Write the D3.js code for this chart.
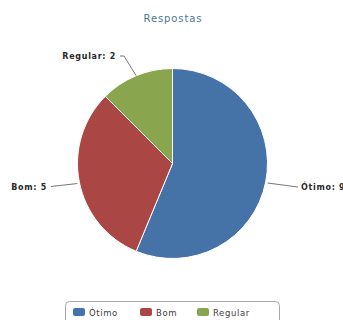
<!DOCTYPE html>
<html><head><meta charset="utf-8">
<script src="https://cdn.jsdelivr.net/npm/d3@7"></script>
<style>body{margin:0;background:#fff}svg{display:block}</style>
</head><body>
<script>
const categories = ["Ótimo", "Bom", "Regular"];
const values = [9, 5, 2];
const colors = ["#4572A7", "#AA4643", "#89A54E"];
const title = "Respostas";

const W = 343, H = 320;
const svg = d3.select("body").append("svg").attr("width", W).attr("height", H);
const font = "'DejaVu Sans', Verdana, sans-serif";

svg.append("text").attr("x", 173).attr("y", 22).attr("text-anchor", "middle")
  .attr("font-family", font).attr("font-size", 10).attr("letter-spacing", 0.9)
  .attr("fill", "#4d7598").text(title);

const cx = 172.5, cy = 163.5, r = 95;
const data = categories.map((c, i) => ({ name: c, value: values[i], color: colors[i] }));
const pie = d3.pie().sort(null).value(d => d.value);
const arc = d3.arc().innerRadius(0).outerRadius(r);
const arcs = pie(data);
const g = svg.append("g").attr("transform", `translate(${cx},${cy})`);
g.selectAll("path").data(arcs).join("path")
  .attr("d", arc).attr("fill", d => d.data.color)
  .attr("stroke", "#fff").attr("stroke-width", 1).attr("stroke-linejoin", "round");

// data labels with connectors
const labelG = svg.append("g");
arcs.forEach(a => {
  const mid = (a.startAngle + a.endAngle) / 2;
  const px = cx + Math.sin(mid) * r, py = cy - Math.cos(mid) * r;
  const right = Math.sin(mid) > 0;
  let lx, ly, d;
  if (a.data.name === "Regular") {
    lx = 120; ly = 56;
    d = `M${lx},${ly} L${lx + 4},${ly} L${px},${py}`;
  } else if (right) {
    lx = 298; ly = 187;
    d = `M${lx},${ly} L${px + 2},${py + 1}`;
  } else {
    lx = 51; ly = 186.5;
    d = `M${lx},${ly} L${px - 2},${py + 1.5}`;
  }
  labelG.append("path").attr("d", d)
    .attr("fill", "none").attr("stroke", "#777").attr("stroke-width", 1);
  labelG.append("text")
    .attr("x", right ? lx + 3 : lx - 4).attr("y", ly + 3)
    .attr("text-anchor", right ? "start" : "end")
    .attr("font-family", font).attr("font-size", 8).attr("font-weight", 600)
    .attr("letter-spacing", 0.7).attr("fill", "#2a2a2a")
    .text(`${a.data.name}: ${a.data.value}`);
});

// legend
const lg = svg.append("g");
lg.append("rect").attr("x", 65.5).attr("y", 301.5).attr("width", 214).attr("height", 24)
  .attr("rx", 4).attr("fill", "#fff").attr("stroke", "#a8a8a8");
const lx0 = [73, 140, 197];
data.forEach((d, i) => {
  lg.append("rect").attr("x", lx0[i]).attr("y", 308).attr("width", 12).attr("height", 8)
    .attr("rx", 2).attr("fill", d.color);
  lg.append("text").attr("x", lx0[i] + 16).attr("y", 316)
    .attr("font-family", font).attr("font-size", 8.5).attr("letter-spacing", 0.6)
    .attr("fill", "#3e3e3e").text(d.name);
});
</script>
</body></html>
